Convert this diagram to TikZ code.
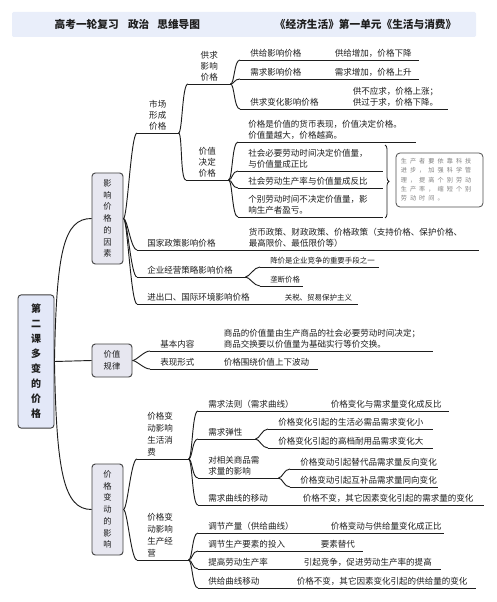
\documentclass[tikz,border=0pt]{standalone}
\usepackage{fontspec}
\setmainfont{Noto Sans CJK SC}
\newfontfamily\notefont[LetterSpace=50]{Noto Sans CJK SC}
\usetikzlibrary{decorations.pathreplacing}
\definecolor{hdrfill}{HTML}{E9EEFA}
\definecolor{rootfill}{HTML}{E3E8F8}
\definecolor{boxfill}{HTML}{E7E7F0}
\definecolor{inkc}{HTML}{1E1E1E}
\newcommand\tpfont{\fontsize{6.4pt}{8.3pt}\selectfont}
\newcommand\lffont{\fontsize{5.6pt}{7.5pt}\selectfont}
\newcommand\bxfont{\fontsize{6.2pt}{8.8pt}\selectfont}
\tikzset{
	line/.style={draw=inkc, line width=0.7pt},
	topic/.style={anchor=south west, inner xsep=7.5pt, inner ysep=2pt, align=left,
		text width=#1*0.75pt-15pt, font=\tpfont, text=inkc,
		append after command={(\tikzlastnode.south west) edge[line] (\tikzlastnode.south east)}},
	leaf/.style={topic=#1, font=\lffont},
	branch/.style={draw=black!75, line width=0.7pt, rounded corners=2.5pt, fill=boxfill,
		align=center, font=\bxfont, text=inkc, inner sep=0pt},
	link/.style={line, to path={.. controls +(4,0) and +(-6,0) .. (\tikztotarget)}}
}

\begin{document}
\begin{tikzpicture}[x=0.75pt, y=-0.75pt]
	\useasboundingbox (0,0) rectangle (496,602);

	\fill[hdrfill, rounded corners=1pt] (12,12) rectangle (476,37);
	\node[anchor=west, font=\fontsize{8pt}{10pt}\selectfont\bfseries, text=inkc] (hdl) at (50,24.5) {高考一轮复习\hspace{7pt}政治\hspace{6pt}思维导图};
	\node[anchor=east, font=\fontsize{8pt}{10pt}\selectfont\bfseries, text=inkc] (hdr) at (461,24.5) {《经济生活》第一单元《生活与消费》};

	\node[branch, fill=rootfill, minimum width=27pt, minimum height=100pt, font=\fontsize{7.5pt}{11.25pt}\selectfont\bfseries] (root) at (36,361.5) {第\\二\\课\\多\\变\\的\\价\\格};
	\node[branch, minimum width=23.25pt, minimum height=68.25pt] (infl) at (107.5,218.5) {影\\响\\价\\格\\的\\因\\素};
	\node[branch, minimum width=30pt, minimum height=24.75pt, font=\fontsize{6.2pt}{9pt}\selectfont] (law) at (112,360.5) {价值\\规律};
	\node[branch, minimum width=23.25pt, minimum height=68.25pt] (eff) at (107.5,509.5) {价\\格\\变\\动\\的\\影\\响};

	\node[topic=41, align=center] (mkt) at (137,133) {市场\\形成\\价格};
	\node[topic=42, align=center] (sd) at (188,84) {供求\\影响\\价格};
	\node[topic=42, align=center] (val) at (186,180) {价值\\决定\\价格};
	\node[topic=84] (sup) at (240,60) {供给影响价格};
	\node[topic=94] (supa) at (sup.south east) {供给增加，价格下降};
	\node[topic=84] (dem) at (240,79) {需求影响价格};
	\node[topic=94] (dema) at (dem.south east) {需求增加，价格上升};
	\node[topic=102] (chg) at (240,109) {供求变化影响价格};
	\node[topic=105] (chga) at (chg.south east) {供不应求，价格上涨；\\供过于求，价格下降。};
	\node[topic=177] (val1) at (238,142) {价格是价值的货币表现，价值决定价格。\\价值量越大，价格越高。};
	\node[topic=144] (val2) at (238,171) {社会必要劳动时间决定价值量，\\与价值量成正比};
	\node[topic=144] (val3) at (238,188) {社会劳动生产率与价值量成反比};
	\node[topic=144] (val4) at (238,217) {个别劳动时间不决定价值量，影\\响生产者盈亏。};
	\draw[line, line width=0.6pt, decorate, decoration={brace, amplitude=3pt}] (385,145) -- (385,218);
	\node[draw=black!70, line width=0.6pt, rounded corners=3pt, minimum width=65.25pt, minimum height=40.5pt,
		text width=58pt, align=left, inner sep=0pt, text=black!50,
		font=\notefont\fontsize{4.6pt}{7pt}\selectfont] (note) at (439.5,180) {生产者要依靠科技\\进步，加强科学管\\理，提高个别劳动\\生产率，缩短个别\\劳动时间。};
	\node[topic=101] (pol) at (137,250) {国家政策影响价格};
	\node[topic=240] (pola) at (pol.south east) {货币政策、财政政策、价格政策（支持价格、保护价格、\\最高限价、最低限价等）};
	\node[topic=108] (firm) at (137,277) {企业经营策略影响价格};
	\node[leaf=118] (firma) at (260,267) {降价是企业竞争的重要手段之一};
	\node[leaf=42] (firmb) at (260,286) {垄断价格};
	\node[topic=137] (trade) at (137,304) {进出口、国际环境影响价格};
	\node[leaf=83] (tradea) at (trade.south east) {关税、贸易保护主义};

	\node[topic=63] (basic) at (150,351) {基本内容};
	\node[topic=219] (basica) at (basic.south east) {商品的价值量由生产商品的社会必要劳动时间决定；\\商品交换要以价值量为基础实行等价交换。};
	\node[topic=63] (form) at (150,369) {表现形式};
	\node[topic=104] (forma) at (form.south east) {价格围绕价值上下波动};

	\node[topic=51, font=\fontsize{6.4pt}{9pt}\selectfont] (cons) at (137,459) {价格变\\动影响\\生活消\\费};
	\node[topic=51, font=\fontsize{6.4pt}{9pt}\selectfont] (prod) at (137,560) {价格变\\动影响\\生产经\\营};
	\node[topic=122] (dlaw) at (198,411) {需求法则（需求曲线）};
	\node[topic=128] (dlawa) at (dlaw.south east) {价格变化与需求量变化成反比};
	\node[topic=57] (elas) at (198,439) {需求弹性};
	\node[topic=164] (elasa) at (268,429) {价格变化引起的生活必需品需求变化小};
	\node[topic=164] (elasb) at (268,448) {价格变化引起的高档耐用品需求变化大};
	\node[topic=80] (rel) at (198,478) {对相关商品需\\求量的影响};
	\node[topic=147] (rela) at (290,469) {价格变动引起替代品需求量反向变化};
	\node[topic=147] (relb) at (290,487) {价格变动引起互补品需求量同向变化};
	\node[topic=94] (dshift) at (198,505) {需求曲线的移动};
	\node[topic=191] (dshifta) at (dshift.south east) {价格不变，其它因素变化引起的需求量的变化};
	\node[topic=122] (qty) at (198,533) {调节产量（供给曲线）};
	\node[topic=123] (qtya) at (qty.south east) {价格变动与供给量变化成正比};
	\node[topic=112] (fac) at (198,551) {调节生产要素的投入};
	\node[topic=52] (faca) at (fac.south east) {要素替代};
	\node[topic=95] (prdv) at (198,569) {提高劳动生产率};
	\node[topic=147] (prdva) at (prdv.south east) {引起竞争，促进劳动生产率的提高};
	\node[topic=88] (sshift) at (198,588) {供给曲线移动};
	\node[topic=189] (sshifta) at (sshift.south east) {价格不变，其它因素变化引起的供给量的变化};

	\draw[line] (root.east) .. controls +(2,-110) and +(-28,0) .. (infl.west);
	\draw[line] (root.east) -- (law.west);
	\draw[line] (root.east) .. controls +(2,110) and +(-28,0) .. (eff.west);
	\foreach \n in {mkt,pol,firm,trade} \draw[link] (infl.east) to (\n.south west);
	\foreach \n in {sd,val} \draw[link] (mkt.south east) to (\n.south west);
	\foreach \n in {sup,dem,chg} \draw[link] (sd.south east) to (\n.south west);
	\foreach \n in {val1,val2,val3,val4} \draw[link] (val.south east) to (\n.south west);
	\foreach \n in {firma,firmb} \draw[link] (firm.south east) to (\n.south west);
	\foreach \n in {basic,form} \draw[link] (law.east) to (\n.south west);
	\foreach \n in {cons,prod} \draw[link] (eff.east) to (\n.south west);
	\foreach \n in {dlaw,elas,rel,dshift} \draw[link] (cons.south east) to (\n.south west);
	\foreach \n in {elasa,elasb} \draw[link] (elas.south east) to (\n.south west);
	\foreach \n in {rela,relb} \draw[link] (rel.south east) to (\n.south west);
	\foreach \n in {qty,fac,prdv,sshift} \draw[link] (prod.south east) to (\n.south west);

\end{tikzpicture}
\end{document}
